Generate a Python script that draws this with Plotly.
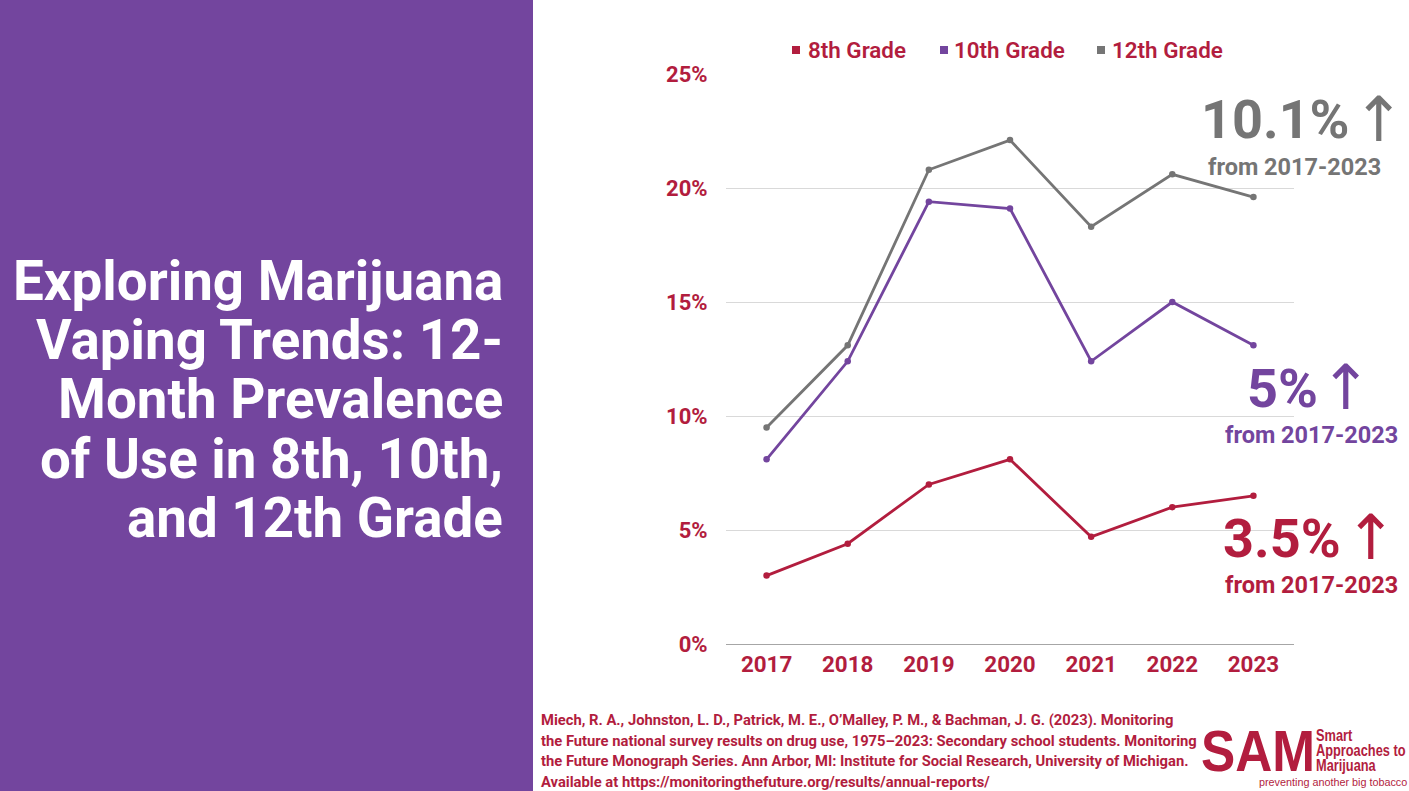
import plotly.graph_objects as go

W, H = 1409, 791
years = ["2017", "2018", "2019", "2020", "2021", "2022", "2023"]
grade8 = [3.0, 4.4, 7.0, 8.1, 4.7, 6.0, 6.5]
grade10 = [8.1, 12.4, 19.4, 19.1, 12.4, 15.0, 13.1]
grade12 = [9.5, 13.1, 20.8, 22.1, 18.3, 20.6, 19.6]
series_names = ["8th Grade", "10th Grade", "12th Grade"]
y_ticks = [0, 5, 10, 15, 20, 25]
y_labels = ["0%", "5%", "10%", "15%", "20%", "25%"]
title_lines = ["Exploring Marijuana", "Vaping Trends: 12-", "Month Prevalence", "of Use in 8th, 10th,", "and 12th Grade"]
source_lines = [
    "Miech, R. A., Johnston, L. D., Patrick, M. E., O’Malley, P. M., & Bachman, J. G. (2023). Monitoring",
    "the Future national survey results on drug use, 1975–2023: Secondary school students. Monitoring",
    "the Future Monograph Series. Ann Arbor, MI: Institute for Social Research, University of Michigan.",
    "Available at https://monitoringthefuture.org/results/annual-reports/",
]
callouts = ["10.1%", "5%", "3.5%"]
callout_sub = "from 2017-2023"

RED, PURPLE, GRAY = "#b21d3e", "#73459e", "#757575"
colors = [RED, PURPLE, GRAY]
F = "Roboto"
LOGO = "Liberation Sans"

def px(x): return x / W
def py(y): return 1 - y / H

fig = go.Figure()
for name, vals, c in zip(series_names, [grade8, grade10, grade12], colors):
    fig.add_trace(go.Scatter(x=years, y=vals, mode="lines+markers", name=name, showlegend=False,
                             line=dict(color=c, width=2.8), marker=dict(color=c, size=6.5)))

annos = []
def text(x, y, s, size, color, anchor="left", weight=700, family=F):
    annos.append(dict(xref="paper", yref="paper", x=px(x), y=py(y), text=s, showarrow=False,
                      xanchor=anchor, yanchor="middle", align=anchor,
                      font=dict(family=family, size=size, color=color, weight=weight)))

for i, l in enumerate(title_lines):
    text(505, 281 + i * 59.2, l, 54.7, "white", "right")
for i, l in enumerate(source_lines):
    text(538.5, 720 + i * 20.6, l, 14.75, RED)

# legend
for (xm, xt), name, c in zip([(796, 806), (944, 952), (1101, 1110)], series_names, colors):
    fig.add_shape(type="rect", xref="paper", yref="paper", x0=px(xm - 4), x1=px(xm + 4),
                  y0=py(54), y1=py(46), fillcolor=c, line_width=0)
    text(xt, 50, name, 22.4, RED, weight=600)

# call-outs
for s, xr, yb, xa, ys, xsub, c in zip(callouts, [1352, 1320, 1343], [120, 388, 538], [1379, 1346, 1371],
                                      [167, 435, 585], [1294.5, 1311.5, 1311.5], [GRAY, PURPLE, RED]):
    text(xr, yb, s, 54, c, "right")
    text(xa, yb - 1, "↑", 62, c, "center", weight=400, family="DejaVu Sans")
    text(xsub, ys, callout_sub, 23.5, c, "center")

# logo
text(1198.5, 750, "SAM", 58, RED, weight=700, family=LOGO)
for y, s in zip([735, 750, 765.5], ["Smart", "Approaches to", "Marijuana"]):
    text(1314, y, s, 16, RED, weight=700, family=LOGO)
text(1257, 781.5, "preventing another big tobacco", 10.8, RED, weight=400, family=LOGO)

fig.add_shape(type="rect", xref="paper", yref="paper", x0=0, x1=px(533), y0=0, y1=1,
              fillcolor=PURPLE, line_width=0, layer="below")

fig.update_layout(
    width=W, height=H, autosize=False, showlegend=False,
    margin=dict(l=0, r=0, t=0, b=0), paper_bgcolor="white", plot_bgcolor="white",
    annotations=annos,
    xaxis=dict(domain=[px(726), px(1294)], type="category", range=[-0.5, 6.5], showgrid=False, zeroline=False,
               automargin=False, showline=False, ticks="outside", ticklen=0, tickcolor="rgba(0,0,0,0)",
               tickfont=dict(family=F, size=22.4, color=RED, weight=700)),
    yaxis=dict(domain=[py(644), py(74)], range=[0, 25], tickmode="array", tickvals=y_ticks, ticktext=y_labels,
               automargin=False, gridcolor="#d9d9d9", gridwidth=1, zeroline=True, zerolinecolor="#a6a6a6",
               zerolinewidth=1, showline=False, ticks="outside", ticklen=13, tickcolor="rgba(0,0,0,0)",
               tickfont=dict(family=F, size=22, color=RED, weight=700)),
)
# The logo lettering is a narrow face: squeeze its text horizontally about its left edge.
squeeze = """
var narrow = {'SAM':0.885,'Smart':0.8,'Approaches to':0.8,'Marijuana':0.8};
document.querySelectorAll('.annotation-text').forEach(function(t){
  var s = narrow[t.textContent];
  if(s){ var b = t.getBBox(); t.setAttribute('transform','translate('+(b.x*(1-s))+',0) scale('+s+',1)'); }
});
document.body.style.margin='0';
"""
fig.write_html("out.html", post_script=squeeze, config=dict(displayModeBar=False))
